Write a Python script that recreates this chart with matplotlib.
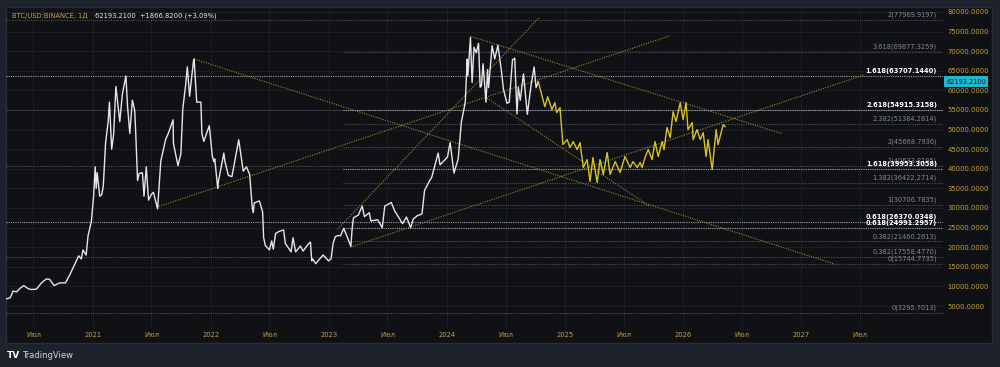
import matplotlib
matplotlib.use('Agg')
import matplotlib.pyplot as plt
import matplotlib.dates as mdates
import matplotlib.transforms as mtransforms
from matplotlib.patches import Rectangle
import pandas as pd

# BTC/USD daily closes (approx.)
btc_dates = [
    '2020-04-07', '2020-04-20', '2020-04-29', '2020-05-10', '2020-05-20', '2020-06-01', '2020-06-15',
    '2020-06-25', '2020-07-10', '2020-07-27', '2020-08-10', '2020-08-20', '2020-09-03', '2020-09-20',
    '2020-10-08', '2020-10-21', '2020-11-05', '2020-11-18', '2020-11-26', '2020-12-01', '2020-12-11',
    '2020-12-17', '2020-12-27',
    '2021-01-03', '2021-01-08', '2021-01-11', '2021-01-14', '2021-01-22', '2021-01-28', '2021-02-02',
    '2021-02-09', '2021-02-17', '2021-02-21', '2021-02-28', '2021-03-06', '2021-03-13', '2021-03-25',
    '2021-04-02', '2021-04-13', '2021-04-18', '2021-04-25', '2021-05-03', '2021-05-10', '2021-05-13',
    '2021-05-19', '2021-05-24', '2021-06-03', '2021-06-08', '2021-06-15', '2021-06-22', '2021-07-01',
    '2021-07-07', '2021-07-20', '2021-07-30', '2021-08-14', '2021-08-22', '2021-09-06', '2021-09-07',
    '2021-09-21', '2021-09-30', '2021-10-06', '2021-10-15', '2021-10-20', '2021-10-27', '2021-11-08',
    '2021-11-10', '2021-11-18', '2021-11-24', '2021-12-01', '2021-12-04', '2021-12-10', '2021-12-27',
    '2022-01-05', '2022-01-10', '2022-01-13', '2022-01-22', '2022-01-24', '2022-02-10', '2022-02-13',
    '2022-02-24', '2022-03-07', '2022-03-28', '2022-04-11', '2022-04-21', '2022-05-01', '2022-05-09',
    '2022-05-12', '2022-05-15', '2022-05-31', '2022-06-10', '2022-06-13', '2022-06-18', '2022-07-01',
    '2022-07-08', '2022-07-13', '2022-07-20', '2022-07-30', '2022-08-14', '2022-08-19', '2022-09-06',
    '2022-09-12', '2022-09-20', '2022-10-05', '2022-10-13', '2022-10-29', '2022-11-05', '2022-11-09',
    '2022-11-12', '2022-11-21', '2022-12-14', '2022-12-31',
    '2023-01-08', '2023-01-14', '2023-01-21', '2023-01-30', '2023-02-06', '2023-02-16', '2023-02-25',
    '2023-03-10', '2023-03-14', '2023-03-18', '2023-04-02', '2023-04-14', '2023-04-21', '2023-05-06',
    '2023-05-11', '2023-06-01', '2023-06-15', '2023-06-23', '2023-07-13', '2023-07-24', '2023-08-17',
    '2023-08-29', '2023-09-11', '2023-09-19', '2023-10-01', '2023-10-16', '2023-10-24', '2023-11-09',
    '2023-11-15', '2023-12-05', '2023-12-11', '2023-12-28',
    '2024-01-03', '2024-01-11', '2024-01-23', '2024-02-05', '2024-02-15', '2024-02-27', '2024-03-04',
    '2024-03-06', '2024-03-14', '2024-03-19', '2024-03-25', '2024-04-01', '2024-04-08', '2024-04-13',
    '2024-04-17', '2024-04-22', '2024-05-01', '2024-05-06', '2024-05-09', '2024-05-20', '2024-05-28',
    '2024-06-07', '2024-06-18', '2024-06-24', '2024-07-05', '2024-07-12', '2024-07-22', '2024-07-29',
    '2024-08-05', '2024-08-09', '2024-08-15', '2024-08-25', '2024-09-06', '2024-09-18', '2024-09-27',
    '2024-10-03', '2024-10-10',
]
btc_close = [
    6800, 7100, 8800, 8600, 9500, 10200, 9400,
    9200, 9300, 11000, 11900, 11800, 10200, 10900,
    10900, 12900, 15500, 17800, 17000, 19300, 18000,
    23000, 26500,
    33000, 40500, 35000, 39000, 33000, 33400, 35500,
    46500, 52000, 57000, 45000, 48800, 61000, 52000,
    59000, 63700, 56000, 49000, 57500, 55000, 50000,
    37000, 38800, 39000, 33000, 40500, 32000, 33500,
    34000, 29800, 42000, 47500, 49000, 52500, 46500,
    40800, 43800, 55300, 61500, 66000, 58500, 67500,
    68000, 57000, 57000, 57000, 49000, 47000, 51000,
    43400, 41800, 42500, 35000, 36700, 44000, 42000,
    38300, 38000, 47400, 39400, 40500, 38500, 30000,
    28800, 31300, 31800, 29000, 22500, 20500, 19300,
    21600, 19500, 23500, 24000, 24400, 21000, 18800,
    22400, 18800, 20300, 19000, 20800, 21300, 16500,
    17000, 15800, 18000, 16500,
    17100, 21000, 22700, 23000, 22900, 24800, 23000,
    20200, 24800, 27500, 28200, 30500, 27800, 28800,
    26700, 27000, 25000, 30500, 31400, 29200, 26000,
    27700, 25000, 27200, 28000, 28500, 34500, 37000,
    37800, 44000, 41000, 42500,
    43000, 46700, 38900, 42500, 52000, 57000, 68000,
    63800, 73500, 62000, 71000, 69600, 72000, 60800,
    61200, 66800, 57000, 65300, 60700, 71400, 68000,
    71500, 64800, 60300, 56700, 57000, 67800, 68200,
    54000, 60800, 57500, 64200, 53900, 61600, 66000,
    60700, 62193,
]

# yellow projected path
fc_dates = [
    '2024-10-10', '2024-10-30', '2024-11-08', '2024-11-21', '2024-11-30', '2024-12-06', '2024-12-16',
    '2024-12-25', '2025-01-07', '2025-01-16', '2025-01-26', '2025-02-07', '2025-02-16', '2025-02-26',
    '2025-03-10', '2025-03-19', '2025-03-28', '2025-04-10', '2025-04-19', '2025-04-29', '2025-05-11',
    '2025-05-20', '2025-06-05', '2025-06-20', '2025-07-05', '2025-07-21', '2025-07-30', '2025-08-12',
    '2025-08-21', '2025-08-27', '2025-09-05', '2025-09-15', '2025-09-27', '2025-10-06', '2025-10-16',
    '2025-10-28', '2025-11-03', '2025-11-12', '2025-11-22', '2025-12-01', '2025-12-10', '2025-12-23',
    '2026-01-01', '2026-01-10', '2026-01-16', '2026-01-29', '2026-02-01', '2026-02-13', '2026-02-23',
    '2026-03-04', '2026-03-13', '2026-03-19', '2026-04-01', '2026-04-13', '2026-04-19', '2026-05-05',
    '2026-05-11',
]
fc_close = [
    62193, 55840, 58380, 55080, 56860, 54320, 55590,
    46180, 47450, 45420, 46940, 44900, 46690, 40330,
    42360, 36770, 42870, 36510, 42360, 38550, 44150,
    38550, 41850, 39050, 43130, 40330, 41850, 40330,
    41600, 40330, 42870, 44900, 42360, 46940, 43130,
    46940, 44900, 50500, 47960, 54570, 52030, 56860,
    52540, 56860, 49990, 51770, 47450, 49990, 47450,
    49230, 43130, 47450, 39820, 49990, 46180, 51260,
    50760,
]

# trend lines (start -> end)
trend_start_dates = ['2024-03-14', '2021-11-10', '2021-07-17', '2023-01-28', '2023-03-08', '2024-04-28']
trend_start_prices = [73800, 68000, 30200, 24600, 20000, 58400]
trend_end_dates = ['2026-11-02', '2027-04-15', '2025-11-20', '2024-10-12', '2027-07-16', '2025-09-20']
trend_end_prices = [49000, 15700, 73900, 78500, 64000, 30400]

# fib levels: value, label, bold, drawn from the left edge or from fib_start
fib_values = [77969.9197, 63707.1440, 40633.8195, 54895.0, 26370.0348, 17558.4770, 3295.7013,
              69877.3259, 54915.3158, 51384.2814, 45668.7936, 39953.3058, 36422.2714,
              30706.7835, 24991.2957, 21460.2613, 15744.7735]
fib_labels = ['2(77969.9197)', '1.618(63707.1440)', '1(40633.8195)', '', '0.618(26370.0348)',
              '0.382(17558.4770)', '0(3295.7013)',
              '3.618(69877.3259)', '2.618(54915.3158)', '2.382(51384.2814)', '2(45668.7936)',
              '1.618(39953.3058)', '1.382(36422.2714)', '1(30706.7835)', '0.618(24991.2957)',
              '0.382(21460.2613)', '0(15744.7735)']
fib_bold = [False, True, False, False, True, False, False,
            False, True, False, False, True, False, False, True, False, False]
fib_from_left = [True, True, True, True, True, True, True,
                 False, False, False, False, False, False, False, False, False, False]
fib_start = '2023-02-13'

price_ticks = list(range(5000, 80001, 5000))
xtick_dates = ['2020-07-01', '2021-01-01', '2021-07-01', '2022-01-01', '2022-07-01', '2023-01-01',
               '2023-07-01', '2024-01-01', '2024-07-01', '2025-01-01', '2025-07-01', '2026-01-01',
               '2026-07-01', '2027-01-01', '2027-07-01']
xtick_labels = ['Июл', '2021', 'Июл', '2022', 'Июл', '2023', 'Июл', '2024', 'Июл', '2025', 'Июл',
                '2026', 'Июл', '2027', 'Июл']


def dn(d):
    return mdates.date2num(pd.to_datetime(d))


BG = '#1e222d'
PANE = '#0f1115'
GOLD = '#c9a03c'

fig = plt.figure(figsize=(10, 3.67), dpi=100, facecolor=BG)
fig.add_artist(Rectangle((6 / 1000, 1 - 343 / 367), 986 / 1000, 336 / 367, transform=fig.transFigure,
                         facecolor=PANE, edgecolor='#2a2e39', lw=1, zorder=0))

ax = fig.add_axes([6 / 1000, 41 / 367, 937 / 1000, 319 / 367])
ax.set_facecolor('none')
for s in ax.spines.values():
    s.set_visible(False)

x0, x1 = dn('2020-04-07'), dn('2028-03-15')
ax.set_xlim(x0, x1)
ax.set_ylim(-100, 81270)

ax.grid(True, color='#1b1e25', lw=0.8, zorder=0)
ax.set_axisbelow(True)

# fib lines + labels
lab_tr = mtransforms.blended_transform_factory(ax.transAxes, ax.transData)
for v, lab, b, left in zip(fib_values, fib_labels, fib_bold, fib_from_left):
    start = x0 if left else dn(fib_start)
    ax.plot([start, x1], [v, v], color='#9a9da5' if b else '#4b4e57', lw=0.8,
            ls=(0, (1, 1)), zorder=2)
for v, lab, b in sorted(zip(fib_values, fib_labels, fib_bold), key=lambda t: t[2]):
    if lab:
        ax.text(0.9936, v + 500, lab, transform=lab_tr, ha='right', va='bottom',
                fontsize=4.8, color='white' if b else '#868991',
                fontweight='bold' if b else 'normal', zorder=3)

# trend lines
for sd, sp, ed, ep in zip(trend_start_dates, trend_start_prices, trend_end_dates, trend_end_prices):
    ax.plot([dn(sd), dn(ed)], [sp, ep], color='#978631', lw=0.8, ls=(0, (1, 1.2)), zorder=3)

# price + projection
ax.plot([dn(d) for d in btc_dates], btc_close, color='#e6e6e6', lw=1.0, zorder=4)
ax.plot([dn(d) for d in fc_dates], fc_close, color='#d8c12a', lw=1.0, zorder=4)

# axes ticks
ax.yaxis.tick_right()
ax.set_yticks(price_ticks)
ax.set_yticklabels([f'{v}.0000' for v in price_ticks])
ax.tick_params(axis='y', length=0, pad=3, labelsize=4.9, labelcolor=GOLD)
ax.set_xticks([dn(d) for d in xtick_dates])
ax.set_xticklabels(xtick_labels)
ax.tick_params(axis='x', length=0, pad=4, labelsize=4.9, labelcolor=GOLD)

# last price tag
tag_tr = mtransforms.blended_transform_factory(fig.transFigure, ax.transData)
ax.text(966 / 1000, 62193.21, '62193.2100', transform=tag_tr, ha='center', va='center',
        fontsize=4.8, color='#131722', zorder=6,
        bbox=dict(boxstyle='square,pad=0.35', fc='#1fb8cf', ec='none'))

# header
fig.text(12 / 1000, 1 - 16 / 367, 'BTC/USD:BINANCE, 1Д', color=GOLD, fontsize=4.9, va='center')
fig.text(95 / 1000, 1 - 16 / 367, '62193.2100  +1866.8200 (+3.09%)', color='#e8e8e8',
         fontsize=4.9, va='center')

# logo
fig.text(7 / 1000, 1 - 356 / 367, 'TV', color='white', fontsize=6.5, fontweight='heavy', va='center')
fig.text(22 / 1000, 1 - 356 / 367, 'TradingView', color='#d1d4dc', fontsize=6, va='center')

plt.savefig('out.png', dpi=100, facecolor=BG)
plt.close()
